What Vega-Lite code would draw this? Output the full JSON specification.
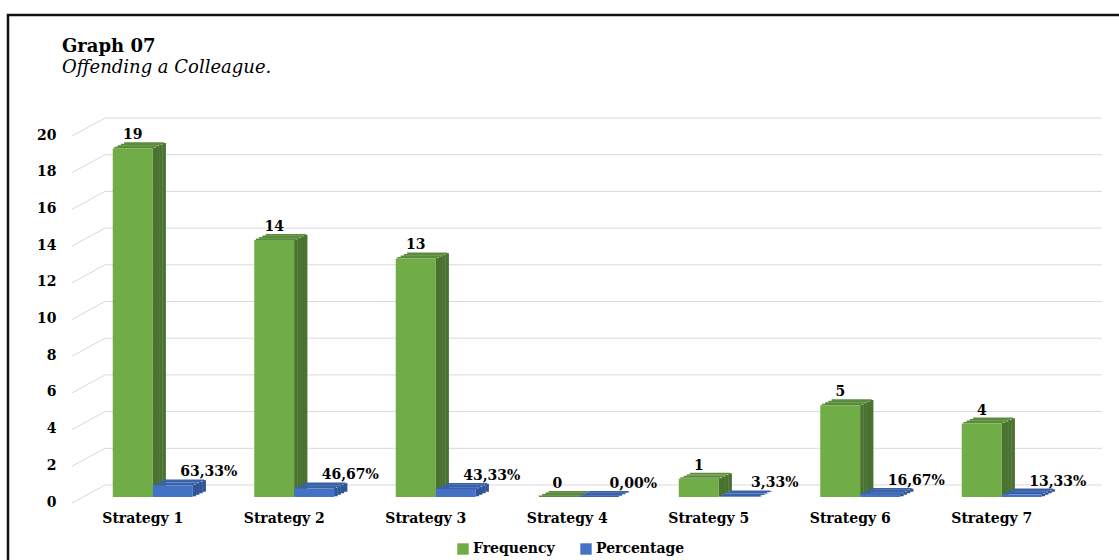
{
  "$schema": "https://vega.github.io/schema/vega-lite/v6.json",
  "width": 1114,
  "height": 548,
  "autosize": {"type": "none"},
  "padding": {"left": 8, "top": 15, "right": 0, "bottom": 0},
  "background": "white",
  "title": {
    "text": "Graph 07",
    "subtitle": "Offending a Colleague.",
    "anchor": "start",
    "frame": "group",
    "orient": "top",
    "offset": -62,
    "dx": 54,
    "font": "DejaVu Serif",
    "fontWeight": "bold",
    "fontSize": 18,
    "color": "black",
    "subtitleFont": "DejaVu Serif",
    "subtitleFontStyle": "italic",
    "subtitleFontWeight": "normal",
    "subtitleFontSize": 18,
    "subtitleColor": "black",
    "subtitlePadding": 3
  },
  "datasets": {
    "strategies": [
      {"strategy": "Strategy 1", "Frequency": 19, "Percentage": 0.6333},
      {"strategy": "Strategy 2", "Frequency": 14, "Percentage": 0.4667},
      {"strategy": "Strategy 3", "Frequency": 13, "Percentage": 0.4333},
      {"strategy": "Strategy 4", "Frequency": 0, "Percentage": 0},
      {"strategy": "Strategy 5", "Frequency": 1, "Percentage": 0.0333},
      {"strategy": "Strategy 6", "Frequency": 5, "Percentage": 0.1667},
      {"strategy": "Strategy 7", "Frequency": 4, "Percentage": 0.1333}
    ],
    "gridTicks": [
      {"tick": 0}, {"tick": 2}, {"tick": 4}, {"tick": 6}, {"tick": 8}, {"tick": 10},
      {"tick": 12}, {"tick": 14}, {"tick": 16}, {"tick": 18}, {"tick": 20}
    ]
  },
  "encoding": {
    "x": {
      "field": "strategy",
      "type": "nominal",
      "sort": null,
      "scale": {
        "type": "band",
        "domain": ["Strategy 1", "Strategy 2", "Strategy 3", "Strategy 4", "Strategy 5", "Strategy 6", "Strategy 7"],
        "range": [64, 1054.5],
        "paddingInner": 0,
        "paddingOuter": 0
      },
      "axis": {
        "title": null,
        "orient": "bottom",
        "offset": -66,
        "domain": false,
        "ticks": false,
        "grid": false,
        "labelAngle": 0,
        "labelBaseline": "middle",
        "labelPadding": 21,
        "labelFont": "DejaVu Serif",
        "labelFontWeight": "bold",
        "labelFontSize": 14,
        "labelColor": "black"
      }
    }
  },
  "layer": [
    {
      "data": {"name": "gridTicks"},
      "mark": {"type": "rule", "color": "#d9d9d9", "strokeWidth": 1, "xOffset": -37.75, "x2Offset": 110.25, "yOffset": -12},
      "encoding": {
        "x": {"datum": "Strategy 1", "type": "nominal"},
        "x2": {"datum": "Strategy 7"},
        "y": {
          "field": "tick",
          "type": "quantitative",
          "scale": {"domain": [0, 20], "range": [482, 115], "nice": false, "zero": true},
          "axis": {
            "title": null,
            "orient": "left",
            "offset": -64,
            "values": [0, 2, 4, 6, 8, 10, 12, 14, 16, 18, 20],
            "domain": false,
            "ticks": false,
            "grid": false,
            "labelPadding": 16,
            "labelOffset": 5,
            "labelFont": "DejaVu Serif",
            "labelFontWeight": "bold",
            "labelFontSize": 14,
            "labelColor": "black"
          }
        }
      }
    },
    {
      "data": {"name": "gridTicks"},
      "mark": {"type": "rule", "color": "#d9d9d9", "strokeWidth": 1, "xOffset": -70.75, "x2Offset": -37.75, "yOffset": 6, "y2Offset": -12},
      "encoding": {
        "x": {"datum": "Strategy 1", "type": "nominal"},
        "x2": {"datum": "Strategy 1"},
        "y": {"field": "tick", "type": "quantitative"},
        "y2": {"field": "tick"}
      }
    },
    {
      "data": {"name": "strategies"},
      "layer": [
        {"mark": {"type": "bar", "width": 3.6, "xOffset": 11.625, "yOffset": -0.75, "y2Offset": -0.75, "color": "#4a7230"},
         "encoding": {"y": {"field": "Frequency", "type": "quantitative"}}},
        {"mark": {"type": "bar", "width": 3.6, "xOffset": 14.875, "yOffset": -2.25, "y2Offset": -2.25, "color": "#4a7230"},
         "encoding": {"y": {"field": "Frequency", "type": "quantitative"}}},
        {"mark": {"type": "bar", "width": 3.6, "xOffset": 18.125, "yOffset": -3.75, "y2Offset": -3.75, "color": "#4a7230"},
         "encoding": {"y": {"field": "Frequency", "type": "quantitative"}}},
        {"mark": {"type": "bar", "width": 3.6, "xOffset": 21.375, "yOffset": -5.25, "y2Offset": -5.25, "color": "#4a7230"},
         "encoding": {"y": {"field": "Frequency", "type": "quantitative"}}},
        {"mark": {"type": "bar", "width": 40, "xOffset": 1.375, "yOffset": -6, "y2Offset": -4.3, "color": "#5b8c3b"},
         "encoding": {"y": {"field": "Frequency", "type": "quantitative"}, "y2": {"field": "Frequency"}}},
        {"mark": {"type": "bar", "width": 40, "xOffset": -1.875, "yOffset": -4.5, "y2Offset": -2.8, "color": "#5b8c3b"},
         "encoding": {"y": {"field": "Frequency", "type": "quantitative"}, "y2": {"field": "Frequency"}}},
        {"mark": {"type": "bar", "width": 40, "xOffset": -5.125, "yOffset": -3, "y2Offset": -1.3, "color": "#5b8c3b"},
         "encoding": {"y": {"field": "Frequency", "type": "quantitative"}, "y2": {"field": "Frequency"}}},
        {"mark": {"type": "bar", "width": 40, "xOffset": -8.375, "yOffset": -1.5, "y2Offset": 0, "color": "#5b8c3b"},
         "encoding": {"y": {"field": "Frequency", "type": "quantitative"}, "y2": {"field": "Frequency"}}},
        {
          "mark": {"type": "bar", "width": 40, "xOffset": -10},
          "encoding": {
            "y": {"field": "Frequency", "type": "quantitative"},
            "color": {
              "datum": "Frequency",
              "type": "nominal",
              "scale": {"domain": ["Frequency", "Percentage"], "range": ["#70ad47", "#4472c4"]},
              "legend": {
                "title": null,
                "orient": "none",
                "direction": "horizontal",
                "legendX": 448,
                "legendY": 527,
                "symbolType": "square",
                "symbolSize": 130,
                "symbolStrokeWidth": 0,
                "labelFont": "DejaVu Serif",
                "labelFontWeight": "bold",
                "labelFontSize": 14,
                "labelColor": "black",
                "labelOffset": 3,
                "columnPadding": 24
              }
            }
          }
        },
        {"mark": {"type": "bar", "width": 3.6, "xOffset": 51.625, "yOffset": -0.75, "y2Offset": -0.75, "color": "#2f5597"},
         "encoding": {"y": {"field": "Percentage", "type": "quantitative"}}},
        {"mark": {"type": "bar", "width": 3.6, "xOffset": 54.875, "yOffset": -2.25, "y2Offset": -2.25, "color": "#2f5597"},
         "encoding": {"y": {"field": "Percentage", "type": "quantitative"}}},
        {"mark": {"type": "bar", "width": 3.6, "xOffset": 58.125, "yOffset": -3.75, "y2Offset": -3.75, "color": "#2f5597"},
         "encoding": {"y": {"field": "Percentage", "type": "quantitative"}}},
        {"mark": {"type": "bar", "width": 3.6, "xOffset": 61.375, "yOffset": -5.25, "y2Offset": -5.25, "color": "#2f5597"},
         "encoding": {"y": {"field": "Percentage", "type": "quantitative"}}},
        {"mark": {"type": "bar", "width": 40, "xOffset": 41.375, "yOffset": -6, "y2Offset": -4.3, "color": "#3962ab"},
         "encoding": {"y": {"field": "Percentage", "type": "quantitative"}, "y2": {"field": "Percentage"}}},
        {"mark": {"type": "bar", "width": 40, "xOffset": 38.125, "yOffset": -4.5, "y2Offset": -2.8, "color": "#3962ab"},
         "encoding": {"y": {"field": "Percentage", "type": "quantitative"}, "y2": {"field": "Percentage"}}},
        {"mark": {"type": "bar", "width": 40, "xOffset": 34.875, "yOffset": -3, "y2Offset": -1.3, "color": "#3962ab"},
         "encoding": {"y": {"field": "Percentage", "type": "quantitative"}, "y2": {"field": "Percentage"}}},
        {"mark": {"type": "bar", "width": 40, "xOffset": 31.625, "yOffset": -1.5, "y2Offset": 0, "color": "#3962ab"},
         "encoding": {"y": {"field": "Percentage", "type": "quantitative"}, "y2": {"field": "Percentage"}}},
        {
          "mark": {"type": "bar", "width": 40, "xOffset": 30},
          "encoding": {
            "y": {"field": "Percentage", "type": "quantitative"},
            "color": {"datum": "Percentage", "type": "nominal"}
          }
        },
        {
          "mark": {"type": "text", "font": "DejaVu Serif", "fontWeight": "bold", "fontSize": 14, "baseline": "middle", "dx": -10, "dy": -13, "color": "black"},
          "encoding": {
            "y": {"field": "Frequency", "type": "quantitative"},
            "text": {"field": "Frequency", "type": "quantitative", "format": "d"}
          }
        },
        {
          "mark": {"type": "text", "font": "DejaVu Serif", "fontWeight": "bold", "fontSize": 14, "baseline": "middle", "dx": 66, "dy": -13, "color": "black"},
          "encoding": {
            "y": {"field": "Percentage", "type": "quantitative"},
            "text": {"field": "Percentage", "type": "quantitative", "format": ".2%"}
          }
        }
      ]
    }
  ],
  "config": {
    "locale": {"number": {"decimal": ",", "thousands": ".", "grouping": [3], "currency": ["", " €"]}},
    "view": {"stroke": "#111111", "strokeWidth": 2.5}
  }
}
